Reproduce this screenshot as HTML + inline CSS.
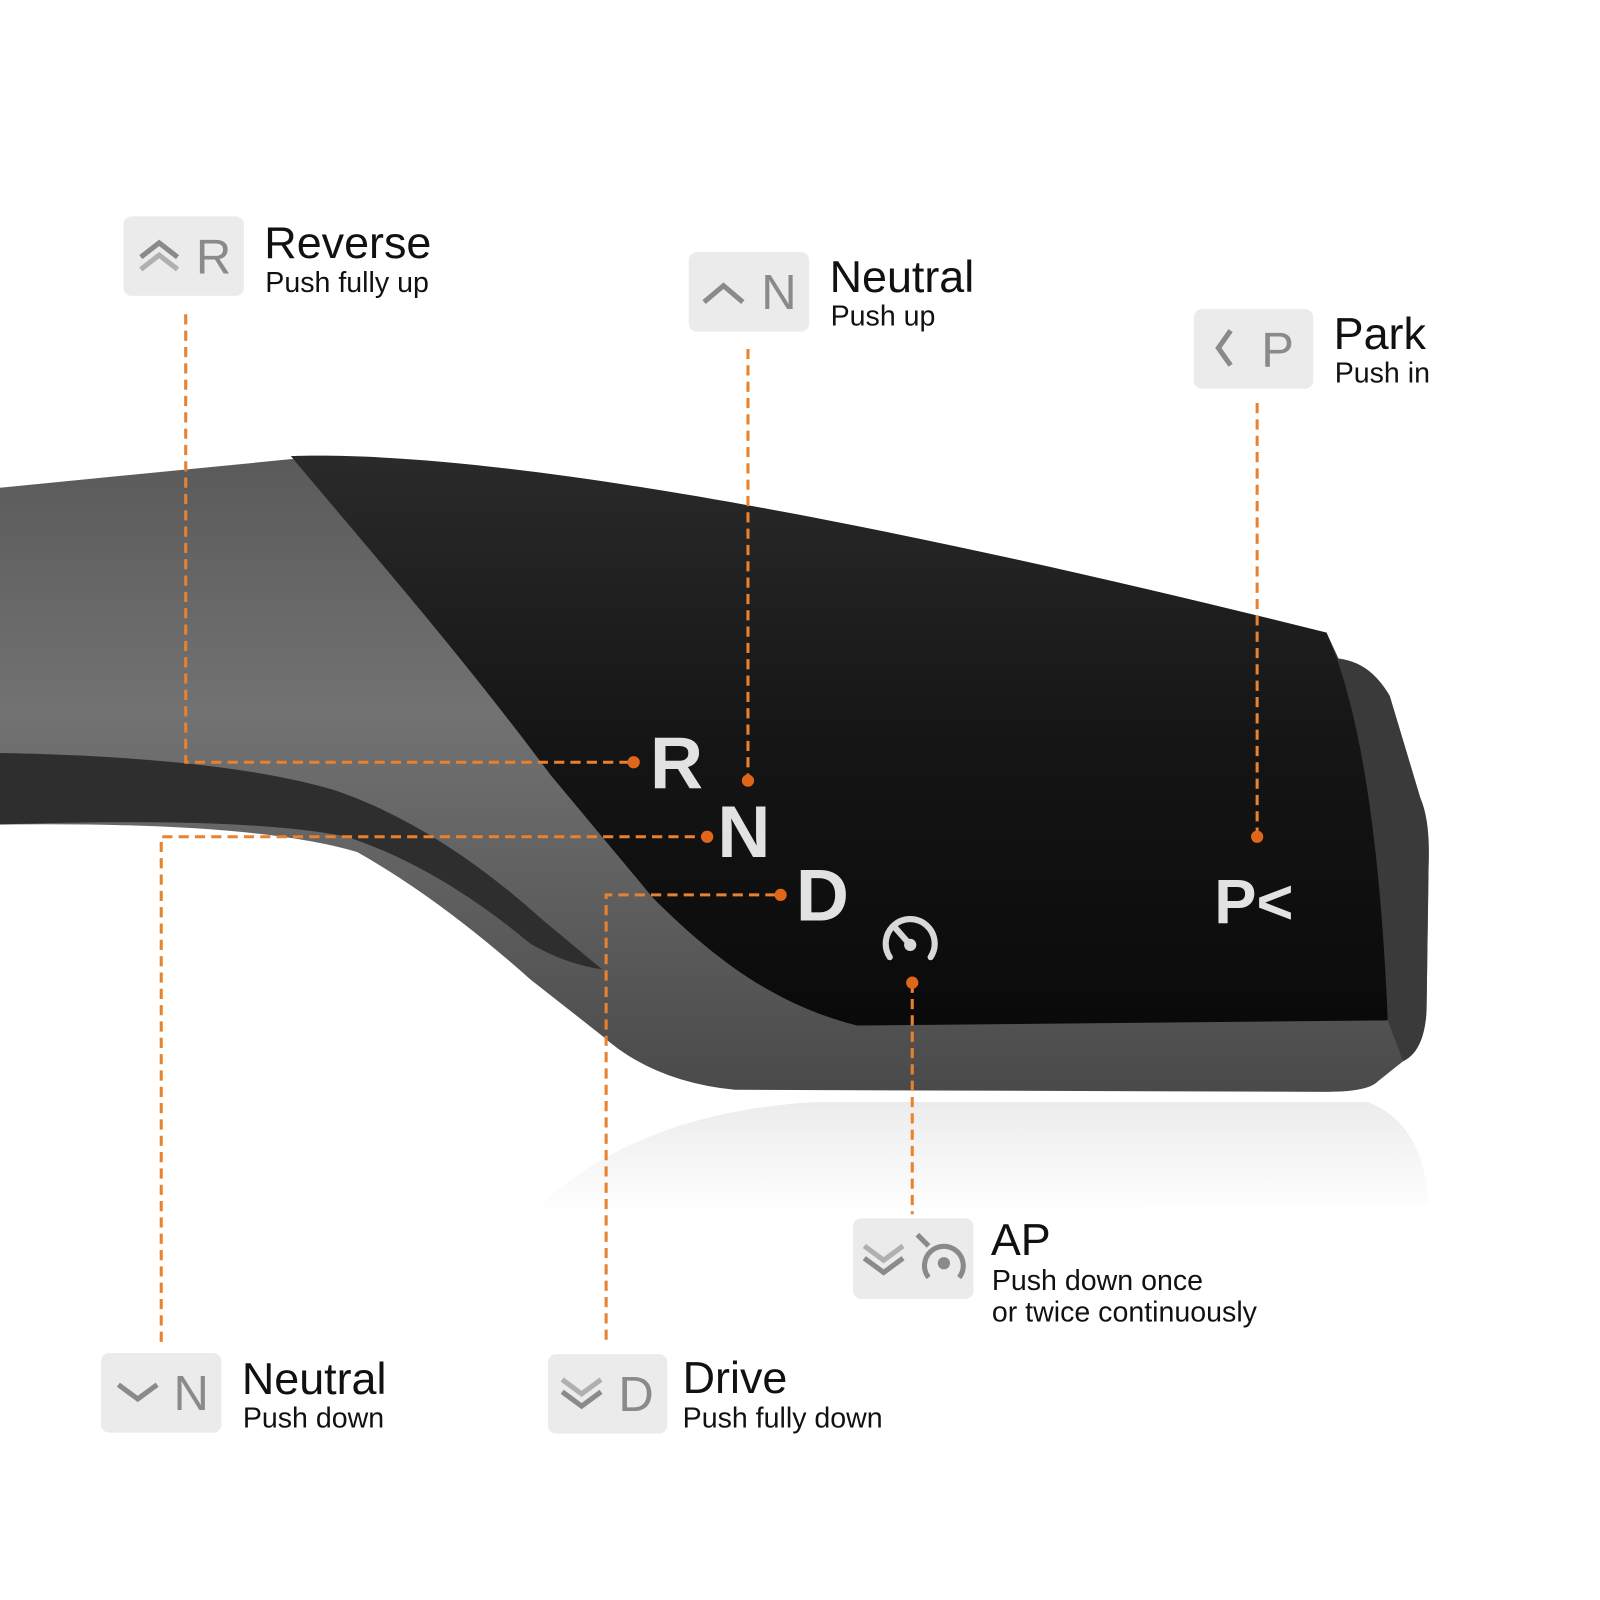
<!DOCTYPE html>
<html><head><meta charset="utf-8"><style>
html,body{margin:0;padding:0;background:#fff;}
svg{display:block;}
text{font-family:"Liberation Sans",sans-serif;}
</style></head><body>
<svg width="1600" height="1600" viewBox="0 0 1568 1568" xmlns="http://www.w3.org/2000/svg">
<defs>
<linearGradient id="gg" x1="0" y1="0" x2="0" y2="1">
<stop offset="0" stop-color="#5a5a5a"/><stop offset="0.4" stop-color="#727272"/><stop offset="1" stop-color="#4a4a4a"/>
</linearGradient>
<linearGradient id="bg" x1="0" y1="0" x2="0" y2="1">
<stop offset="0" stop-color="#2a2a2a"/><stop offset="0.5" stop-color="#151515"/><stop offset="1" stop-color="#0a0a0a"/>
</linearGradient>
<linearGradient id="rf" x1="0" y1="0" x2="0" y2="1">
<stop offset="0" stop-color="#ececec"/><stop offset="1" stop-color="#ffffff"/>
</linearGradient>
</defs>
<path d="M520,1190 Q620,1090 800,1080 L1340,1080 Q1395,1100 1400,1180 Z" fill="url(#rf)"/>
<path d="M0,478 L285,450 C500,440 900,520 1300,620 L1310,645 Q1340,648 1360,680 L1390,780 Q1400,800 1400,850 L1398,990 Q1396,1030 1375,1040 L1350,1060 Q1340,1070 1300,1070 L720,1068 Q640,1060 590,1015 L520,960 Q430,880 350,835 Q250,805 0,808 Z" fill="url(#gg)"/>
<path d="M0,738 Q220,742 330,775 Q430,810 530,900 L590,950 Q555,945 520,925 Q430,850 340,820 Q240,800 0,808 Z" fill="#2e2e2e"/>
<path d="M1300,620 L1312,646 Q1342,648 1362,682 L1392,782 Q1402,805 1400,850 L1398,990 Q1396,1030 1375,1040 L1360,1000 Z" fill="#3a3a3a"/>
<path d="M285,447 C500,440 900,520 1300,620 L1310,645 Q1350,760 1360,1000 L840,1005 C760,985 700,940 640,880 L540,760 C450,640 380,560 285,447 Z" fill="url(#bg)"/>
<g fill="#e2e2e2" font-size="72" font-weight="bold">
<text x="637" y="772">R</text>
<text x="703" y="840">N</text>
<text x="780" y="902">D</text>
<text x="1190" y="905" font-size="62">P&lt;</text>
</g>
<g stroke="#d8d8d8" stroke-width="6" fill="none" stroke-linecap="round">
<path d="M872,938 A24,24 0 1 1 912,938"/>
<line x1="892" y1="926" x2="878" y2="910"/>
</g>
<circle cx="892" cy="926" r="6" fill="#d8d8d8"/>
<g stroke="#e8822e" stroke-width="3" stroke-dasharray="10 6" fill="none">
<path d="M182,308 L182,747 L620,747"/>
<path d="M733,342 L733,765"/>
<path d="M1232,395 L1232,820"/>
<path d="M158,1315 L158,820 L693,820"/>
<path d="M594,1313 L594,877 L765,877"/>
<path d="M894,963 L894,1190"/>
</g>
<g fill="#e0661a">
<circle cx="621" cy="747" r="6"/><circle cx="733" cy="765" r="6"/><circle cx="1232" cy="820" r="6"/>
<circle cx="693" cy="820" r="6"/><circle cx="765" cy="877" r="6"/><circle cx="894" cy="963" r="6"/>
</g>
<g fill="#ebebeb">
<rect x="121" y="212" width="118" height="78" rx="8"/>
<rect x="675" y="247" width="118" height="78" rx="8"/>
<rect x="1170" y="303" width="117" height="78" rx="8"/>
<rect x="836" y="1194" width="118" height="79" rx="8"/>
<rect x="99" y="1326" width="118" height="78" rx="8"/>
<rect x="537" y="1327" width="117" height="78" rx="8"/>
</g>
<g fill="#8a8a8a" font-size="48">
<text x="192" y="268">R</text>
<text x="746" y="303">N</text>
<text x="1236" y="359">P</text>
<text x="170" y="1382">N</text>
<text x="606" y="1383">D</text>
</g>
<g stroke="#8a8a8a" stroke-width="5" fill="none">
<path d="M138,252 L156,238 L174,252"/><path d="M138,264 L156,250 L174,264" stroke="#b0b0b0"/>
<path d="M690,296 L709,280 L728,296"/>
<path d="M1206,324 L1194,341 L1206,358"/>
<path d="M116,1357 L135,1371 L154,1357"/>
<path d="M551,1352 L570,1366 L589,1352" stroke="#b0b0b0"/><path d="M551,1364 L570,1378 L589,1364"/>
<path d="M847,1221 L866,1235 L885,1221" stroke="#b0b0b0"/><path d="M847,1233 L866,1247 L885,1233"/>
<path d="M910,1252 A19,19 0 1 1 940,1252"/>
<path d="M899,1210 L910,1221"/>
</g>
<circle cx="925" cy="1238" r="6" fill="#8a8a8a"/>
<g fill="#111">
<text x="259" y="253" font-size="44">Reverse</text>
<text x="260" y="286" font-size="28">Push fully up</text>
<text x="813" y="286" font-size="44">Neutral</text>
<text x="814" y="319" font-size="28">Push up</text>
<text x="1307" y="342" font-size="44">Park</text>
<text x="1308" y="375" font-size="28">Push in</text>
<text x="971" y="1230" font-size="44">AP</text>
<text x="972" y="1264" font-size="28">Push down once</text>
<text x="972" y="1295" font-size="28">or twice continuously</text>
<text x="237" y="1366" font-size="44">Neutral</text>
<text x="238" y="1399" font-size="28">Push down</text>
<text x="669" y="1365" font-size="44">Drive</text>
<text x="669" y="1399" font-size="28">Push fully down</text>
</g>
</svg>
</body></html>
